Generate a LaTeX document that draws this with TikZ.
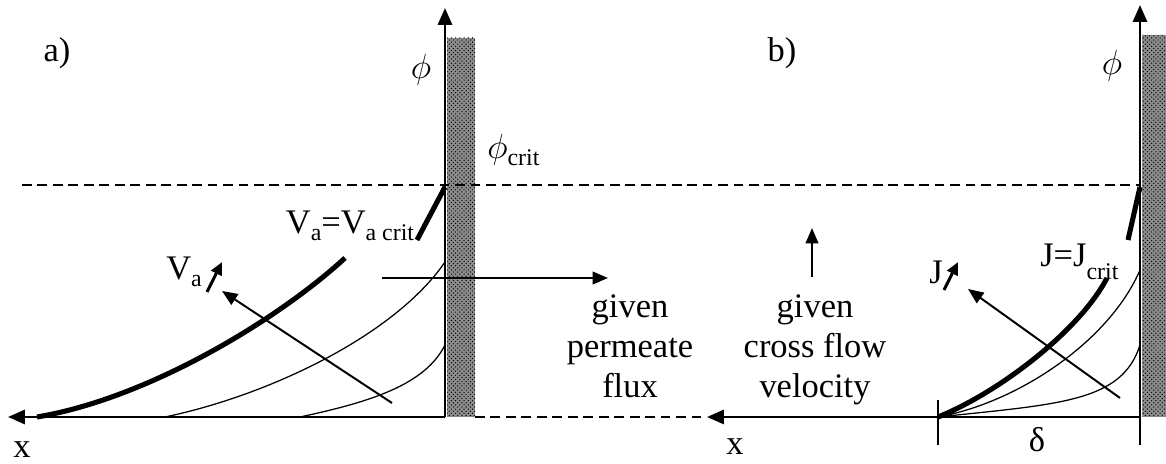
\documentclass[tikz,border=0pt]{standalone}
\usepackage{fontspec}
\setmainfont{Liberation Serif}
\usetikzlibrary{arrows.meta,patterns}
\newcommand{\lowtext}[1]{\raisebox{-0.45ex}{\fontsize{17}{17}\selectfont #1}}
\begin{document}
\begin{tikzpicture}[x=0.025cm,y=-0.025cm,
  axis/.style={line width=1.9pt,-{Triangle[width=10pt,length=12pt]}},
  flow/.style={line width=1.4pt,-{Triangle[width=9pt,length=11pt]}},
  small/.style={line width=2.2pt,-{Triangle[width=8pt,length=9pt]}},
  profile/.style={line width=0.9pt},
  crit/.style={line width=3.6pt},
  level/.style={line width=1.2pt,dash pattern=on 7pt off 4pt},
  tick/.style={line width=1pt},
  wall/.style={pattern=crosshatch dots},
  lbl/.style={font=\fontsize{24.5}{28.5}\selectfont,inner sep=0pt,align=center}]
\useasboundingbox (0,0) rectangle (1166,464);
% membranes
\fill[black!45] (447,38) rectangle (475,417);
\fill[wall] (447,38) rectangle (475,417);
\fill[black!45] (1142,35) rectangle (1166,417);
\fill[wall] (1142,35) rectangle (1166,417);
\path node[lbl] (a) at (57,53) {a)}
node[lbl] (b) at (782,53) {b)}
node[lbl] (phiA) at (421,70) {$\phi$}
node[lbl] (phiB) at (1112,66) {$\phi$}
node[lbl,anchor=west] (phicrit) at (487,150) {$\phi$\lowtext{crit}}
node[lbl] (Vcrit) at (350,226) {V\lowtext{a}=V\lowtext{a crit}}
node[lbl,anchor=west] (Jcrit) at (1040,262) {J=J\raisebox{-0.8ex}{\fontsize{17}{17}\selectfont crit}}
node[lbl] (Va) at (184,272) {V\lowtext{a}}
node[lbl] (J) at (936,272) {J}
node[lbl] (xA) at (22,450) {x}
node[lbl] (xB) at (735,447) {x}
node[lbl] (delta) at (1037,440) {δ}
node[lbl] (perm) at (630,346) {given\\permeate\\flux}
node[lbl] (cross) at (815,350) {given\\cross flow\\velocity}
coordinate (OA) at (445,417)
coordinate (TA) at (445,8)
coordinate (LA) at (8,417)
coordinate (WA) at (475,417)
coordinate (OB) at (1140,417)
coordinate (TB) at (1140,5)
coordinate (LB) at (707,417)
coordinate (SB) at (938,417)
coordinate (DL) at (22,185)
coordinate (DR) at (1140,185)
coordinate (PA) at (382,278)
coordinate (PB) at (608,278)
coordinate (CA) at (812,277)
coordinate (CB) at (812,228)
coordinate (VA1) at (392,403)
coordinate (VA2) at (222,291)
coordinate (JA1) at (1120,398)
coordinate (JA2) at (968,289)
coordinate (va1) at (207,292)
coordinate (va2) at (222,262)
coordinate (j1) at (944,290)
coordinate (j2) at (958,262)
;
% axes
\draw[axis] (OA) -- (TA);
\draw[axis] (OA) -- (LA);
\draw[axis] (OB) -- (TB);
\draw[axis] (OB) -- (LB);
\draw[level] (WA) -- (LB);
\draw[level] (DL) -- (DR);
\draw[tick] (938,400) -- (938,445);
\draw[tick] (OB) -- (1140,445);
% profiles a)
\draw[crit] (37,417) .. controls (150,398) and (280,318) .. (345,258);
\draw[crit] (417,240) -- (445,187);
\draw[profile] (165,417) .. controls (270,395) and (395,335) .. (445,262);
\draw[profile] (300,417) .. controls (370,402) and (425,385) .. (445,345);
% profiles b)
\draw[crit] (SB) .. controls (1000,392) and (1080,330) .. (1107,278);
\draw[crit] (1128,240) -- (1140,187);
\draw[profile] (SB) .. controls (1020,402) and (1110,340) .. (1140,270);
\draw[profile] (SB) .. controls (1060,404) and (1122,402) .. (1140,345);
% arrows
\draw[flow] (VA1) -- (VA2);
\draw[flow] (JA1) -- (JA2);
\draw[flow] (PA) -- (PB);
\draw[flow] (CA) -- (CB);
\draw[small] (va1) -- (va2);
\draw[small] (j1) -- (j2);
\end{tikzpicture}
\end{document}
